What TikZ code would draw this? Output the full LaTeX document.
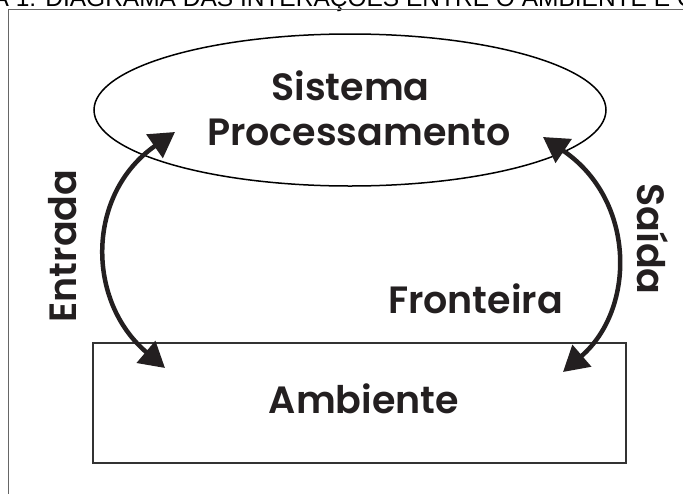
\documentclass[tikz,border=0pt]{standalone}
\usepackage{fontspec}
\setmainfont{Liberation Sans}
\newfontfamily\geofont{Poppins SemiBold}
\usetikzlibrary{arrows.meta,shapes.geometric}
\definecolor{ink}{HTML}{231F20}
\tikzset{
  outerframe/.style={draw=black!60, line width=1.2pt},
  envbox/.style={draw=black!80, line width=1.8pt},
  sysell/.style={draw=black, line width=1.5pt},
  flow/.style={draw=ink, line width=4.5pt,
    {Triangle[length=25pt,width=28pt]}-{Triangle[length=25pt,width=28pt]}},
  lbl/.style={text=ink, inner sep=0pt, font=\geofont\fontsize{38}{40}\selectfont},
  titletxt/.style={text=black, inner sep=0pt, font=\fontsize{24.5}{26}\selectfont}
}
\begin{document}
\begin{tikzpicture}[x=1pt,y=-1pt]
\useasboundingbox (0,0) rectangle (683,493);
\clip (0,0) rectangle (683,493);
\fill[white] (0,0) rectangle (683,493);
% title (cut by the top edge, as in the reference)
\node[titletxt, anchor=base west] (title) at (-7.5,6.7) {A 1: DIAGRAMA DAS INTERAÇÕES ENTRE O AMBIENTE E O};
% outer frame
\draw[outerframe] (8.3,500) -- (8.3,9.5) -- (690,9.5);
% system ellipse
\node[sysell, ellipse, minimum width=512, minimum height=152, inner sep=0pt] (sys) at (350,110) {};
\node[lbl, anchor=base] (sistema) at (350.5,100) {Sistema};
\node[lbl, anchor=base] (proc) at (359,145) {Processamento};
% environment box
\node[envbox, rectangle, minimum width=533, minimum height=120, inner sep=0pt] (amb) at (359.5,403) {};
\node[lbl, anchor=base] (ambtxt) at (364,413) {Ambiente};
% labels
\node[lbl, anchor=base] (front) at (475.5,313) {Fronteira};
\node[lbl, anchor=base, rotate=90] (entr) at (76,246) {Entrada};
\node[lbl, anchor=base, rotate=-90] (said) at (637,239) {Saída};
% arrow ends
\coordinate (inTop) at (175,132);
\coordinate (inBot) at (165,368);
\coordinate (outTop) at (543,137);
\coordinate (outBot) at (563,372);
\draw[flow] (inTop) .. controls (86,194) and (86,301) .. (inBot);
\draw[flow] (outTop) .. controls (636,200) and (636,309) .. (outBot);
\end{tikzpicture}
\end{document}
